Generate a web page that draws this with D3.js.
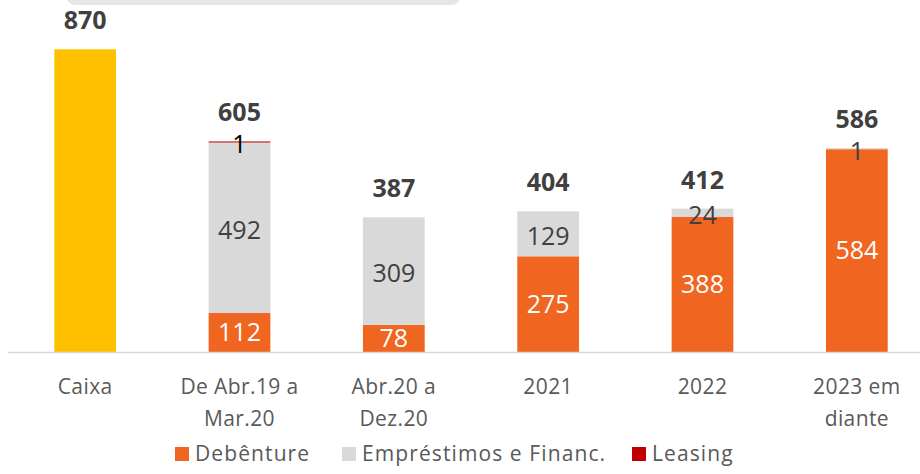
<!DOCTYPE html>
<html>
<head>
<meta charset="utf-8">
<script src="https://cdn.jsdelivr.net/npm/d3@7"></script>
<style>
  body { margin: 0; background: #fff; }
  svg { display: block; font-family: "Open Sans", "Noto Sans", sans-serif; }
</style>
</head>
<body>
<div id="chart"></div>
<script>
// Data
const categories = ["Caixa", "De Abr.19 a|Mar.20", "Abr.20 a|Dez.20", "2021", "2022", "2023 em|diante"];
const caixa = [870, 0, 0, 0, 0, 0];
const debenture = [0, 112, 78, 275, 388, 584];
const emprestimos = [0, 492, 309, 129, 24, 1];
const leasing = [0, 1, 0, 0, 0, 0];
const totals = [870, 605, 387, 404, 412, 586];
const seriesNames = ["Debênture", "Empréstimos e Financ.", "Leasing"];

const W = 920;
const H = 474;

const svg = d3.select("#chart").append("svg").attr("width", W).attr("height", H);

// clipped header box at the very top
svg.append("rect")
  .attr("x", 67).attr("y", -20)
  .attr("width", 393).attr("height", 25)
  .attr("rx", 8)
  .attr("fill", "#e6e6e6");

const x = d3.scaleBand()
  .domain(categories)
  .range([8, 934])
  .paddingInner(0.6)
  .paddingOuter(0.3);

const y = d3.scaleLinear().domain([0, 1000]).range([352, 4]);

const colors = {
  caixa: "#ffc000",
  debenture: "#f0651f",
  emprestimos: "#d9d9d9",
  leasing: "#c00000"
};

const rows = categories.map((c, i) => ({
  cat: c,
  caixa: caixa[i],
  debenture: debenture[i],
  emprestimos: emprestimos[i],
  leasing: leasing[i]
}));

const keys = ["caixa", "debenture", "emprestimos", "leasing"];
const stack = d3.stack().keys(keys)(rows);

const layer = svg.selectAll("g.layer")
  .data(stack)
  .enter()
  .append("g")
  .attr("class", "layer")
  .attr("fill", (d) => colors[d.key]);

layer.selectAll("rect")
  .data((d) => d.filter((s) => s[1] - s[0] > 0))
  .enter()
  .append("rect")
  .attr("x", (d) => x(d.data.cat))
  .attr("width", x.bandwidth())
  .attr("y", (d) => y(d[1]))
  .attr("height", (d) => Math.max(1, y(d[0]) - y(d[1])));

// axis line
svg.append("line")
  .attr("x1", 8).attr("x2", W)
  .attr("y1", 352.5).attr("y2", 352.5)
  .attr("stroke", "#d9d9d9")
  .attr("stroke-width", 1.5);

// labels inside segments
const labelColor = { debenture: "#ffffff", emprestimos: "#404040", leasing: "#000000" };
stack.filter((s) => s.key !== "caixa").forEach((s) => {
  svg.append("g")
    .selectAll("text")
    .data(s.filter((d) => d[1] - d[0] > 0))
    .enter()
    .append("text")
    .attr("x", (d) => x(d.data.cat) + x.bandwidth() / 2)
    .attr("y", (d) => (y(d[0]) + y(d[1])) / 2 + (s.key === "debenture" ? 0 : 2.5))
    .attr("dy", "0.35em")
    .attr("text-anchor", "middle")
    .attr("font-size", 25)
    .attr("fill", labelColor[s.key])
    .text((d) => d[1] - d[0]);
});

// totals on top
svg.append("g")
  .selectAll("text")
  .data(rows)
  .enter()
  .append("text")
  .attr("x", (d) => x(d.cat) + x.bandwidth() / 2)
  .attr("y", (d, i) => y(totals[i]) - 20)
  .attr("text-anchor", "middle")
  .attr("font-size", 25)
  .attr("font-weight", "bold")
  .attr("fill", "#404040")
  .text((d, i) => totals[i]);

// category labels
const catText = svg.append("g")
  .selectAll("text")
  .data(categories)
  .enter()
  .append("text")
  .attr("text-anchor", "middle")
  .attr("font-size", 21)
  .attr("letter-spacing", 0.4)
  .attr("fill", "#595959");

catText.selectAll("tspan")
  .data((d) => d.split("|").map((t) => ({ t: t, c: d })))
  .enter()
  .append("tspan")
  .attr("x", (d) => x(d.c) + x.bandwidth() / 2)
  .attr("y", (d, i) => 394 + i * 32)
  .text((d) => d.t);

// legend
const legendX = [175, 342, 632];
const legendColors = [colors.debenture, colors.emprestimos, colors.leasing];
const legendItem = svg.append("g")
  .selectAll("g")
  .data(seriesNames)
  .enter()
  .append("g")
  .attr("transform", (d, i) => "translate(" + legendX[i] + ",447)");

legendItem.append("rect")
  .attr("width", 14)
  .attr("height", 14)
  .attr("fill", (d, i) => legendColors[i]);

legendItem.append("text")
  .attr("x", 20)
  .attr("y", 14)
  .attr("font-size", 21)
  .attr("letter-spacing", 1.1)
  .attr("fill", "#595959")
  .text((d) => d);
</script>
</body>
</html>
